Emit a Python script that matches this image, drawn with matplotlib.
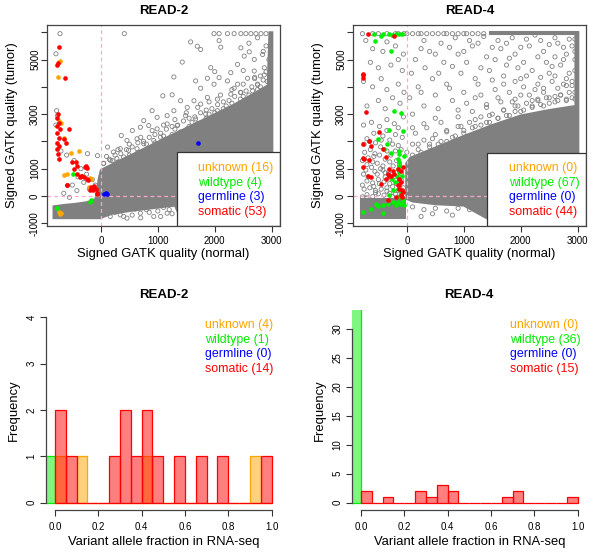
import matplotlib
matplotlib.use("Agg")
import matplotlib.pyplot as plt
from matplotlib.patches import Rectangle

plt.rcParams['font.family'] = ['Liberation Sans', 'DejaVu Sans']

# ---- categories / colours ----
categories = ['unknown', 'wildtype', 'germline', 'somatic']
cat_colors = ['#FFA500', '#00EE00', '#0000FF', '#FF0000']
GRAY = '#808080'

# ---- scatter counts shown in the legends ----
scatter_counts = {'READ-2': [16, 4, 3, 53], 'READ-4': [0, 67, 0, 44]}
hist_counts_legend = {'READ-2': [4, 1, 0, 14], 'READ-4': [0, 36, 0, 15]}

x_ticks_sc = [0, 1000, 2000, 3000]
y_ticks_sc = [-1000, 0, 1000, 2000, 3000, 4000, 5000, 6000]
y_ticklabels_sc = ['-1000', '0', '1000', '', '3000', '', '5000', '']

# ---- READ-2 scatter: dense gray core (outline) ----
core2_x = [-830, -830, -650, -450, -250, -100, -60, -40, 0, 280, 580, 870, 1160,
           1460, 1750, 2050, 2340, 2640, 2930, 2960, 3010, 3010, 1400, 1300, 900,
           500, 200, 50, 0]
core2_y = [-812, -380, -330, -290, -230, -120, 150, 600, 950, 1250, 1550, 1850, 2150,
           2450, 2750, 3050, 3350, 3700, 4050, 6000, 6000, -812, -812, -350, -450,
           -550, -650, -760, -812]

# READ-2 scattered gray circles
gray2_x = [-717, 412, -788, 1987, 2076, 2223, 2340, 2458, 2546, 2634, 2722, 2811, 2899,
           1576, 1693, 1752, 2076, 2105, 2458, 2605, 2517, 2693, 2840, 1429, 1929, 1999,
           1870, 2076, 2281, 2399, 1282, 1664, 1752, 1987, 2223, 2340, 2575, 2752, 2869,
           2693, 1088, 1252, 1399, 1517, 1635, 1752, 1870, 2046, 2281, 2458, 2664, 900,
           753, 988, 1164, 1282, 1488, 1664, 1840, 2046, 553, 694, 841, 988, 1164, 1341,
           1517, 359, 459, 635, 753, 929, 1047, 118, 223, 341, 488, 635, -59, -235, 47,
           165, 282, 400,
           -776, -760, -790, -700, -600, -470, -350, -250, -400, -300, -150, -500, -420,
           -200, -100, -650, -550,
           165, 459, 694, 929, 1164, 341, 800, 1100, 600, 300, 1250, 1000, 700, 450, 150,
           250, 550, 850, 1050, 1250, 400, 700, 1000, 1200,
           2900, 2870, 2950, 2600, 2750, 2850, 2800, 2920, 2700, 2500, 2400]
gray2_y = [5951, 5951, 5212, 5951, 5951, 5951, 5951, 5951, 5951, 5951, 5951, 5951, 5951,
           5648, 5490, 5369, 5696, 5454, 5430, 5284, 5127, 5006, 5187, 4909, 4703, 4557,
           4315, 4339, 4521, 4824, 4363, 4218, 3951, 4097, 4218, 3951, 4315, 4072, 4436,
           4581, 3672, 3709, 3491, 3248, 3491, 3369, 3612, 3551, 3733, 3794, 3854, 3127,
           2763, 2885, 2945, 3127, 2945, 2824, 3006, 3127, 2400, 2521, 2582, 2460, 2642,
           2582, 2460, 2218, 2036, 2097, 1915, 2036, 2157, 1794, 1612, 1733, 1673, 1733,
           1479, 1551, 1188, 1309, 1370, 1430,
           3127, 2950, 2600, 1650, 1500, 1300, 1000, 800, 700, 500, 600, 400, 200, 250,
           400, 100, -50,
           -751, -812, -630, -750, -630, -690, -500, -420, -480, -450, -300, -180, -250,
           -300, -400,
           -600, -700, -600, -750, -650, -750, -800, -550, -500,
           5500, 4700, 5000, 5600, 5800, 5300, 4400, 4200, 4300, 4600, 4100]

# READ-2 halo of circles just above the dense wedge
halo2_x = [50, 150, 250, 350, 450, 550, 650, 750, 850, 950, 1050, 1150, 1250, 1350,
           1450, 1550, 1650, 1750, 1850, 1950, 2050, 2150, 2250, 2350, 2450, 2550, 2650,
           2750, 2850,
           100, 300, 500, 700, 900, 1100, 1300, 1500, 1700, 1900, 2100, 2300, 2500, 2700,
           2900,
           200, 500, 800, 1100, 1300, 1600, 1900, 2200, 2500, 2800, 300, 650, 950, 1250,
           1550, 1850, 2150, 2450, 2750, 1000, 1400, 1700, 2000, 2300, 2600]
halo2_y = [1200, 1350, 1500, 1550, 1700, 1800, 1950, 2000, 2150, 2250, 2300, 2450, 2550,
           2600, 2750, 2850, 2900, 3050, 3150, 3200, 3350, 3450, 3500, 3650, 3800, 3850,
           4000, 4100, 4250,
           1450, 1700, 1900, 2150, 2400, 2600, 2800, 3050, 3250, 3450, 3700, 3900, 4100,
           4350, 4550,
           1300, 1500, 1900, 2200, 2450, 2700, 3000, 3300, 3650, 4000, 1250, 1600, 1950,
           2250, 2550, 2850, 3200, 3550, 3900, 1800, 2350, 2650, 3050, 3400, 3700]

# READ-2 coloured points
r2_unknown_x = [-735, -720, -753, -735, -706, -647, -530, -383, -647, -588, -177, -206,
                -735, -718, -706, -188]
r2_unknown_y = [4912, 4950, 4369, 2740, 2679, 2136, 1593, 1653, 772, 808, 627, 325,
                -580, -677, -640, 642]
r2_wildtype_x = [-483, -765, -188, -177]
r2_wildtype_y = [796, -423, -218, -157]
r2_germline_x = [58, 88, 105, 1705]
r2_germline_y = [84, 108, 84, 1930]
r2_somatic_x = [-735, -765, -753, -635, -753, -765, -735, -765, -718, -776, -735, -765,
                -735, -765, -753, -735, -559, -647, -618, -500, -441, -471, -412, -265,
                -236, -412, -353, -294, -236, -324, -588, -177, -147, -118, -89, -130,
                -59, -276, -364, -218, -188, -70, -600]
r2_somatic_y = [5479, 4791, 4876, 4333, 3005, 2860, 2679, 2558, 2438, 2317, 2136, 1955,
                1834, 1713, 1532, 1351, 2462, 2076, 1955, 1255, 1231, 989, 1110, 1086,
                1025, 808, 748, 687, 627, 724, 386, 325, 289, 362, 265, 205, 84, 1067,
                703, 582, 218, 97, 400]

# ---- READ-4 scatter: dense gray cores ----
block4_x = [-805, -805, -30, -30]
block4_y = [-812, -100, -100, -812]
core4_x = [-10, -10, 60, 470, 1000, 1500, 2000, 2500, 2960, 2960, 3010, 3010, 1400,
           1000, 500, 100]
core4_y = [-100, 1200, 1400, 1750, 2200, 2600, 2950, 3150, 3300, 6000, 6000, -812, -812,
           -350, -300, -200]
band4_x = [1450, 1450, 3010, 3010]
band4_y = [5920, 6060, 6060, 5920]

gray4_x = [-780, -600, -500, -350, -200, -150, -50, 0, 100, 200, 250, 350, 450, 550,
           650, 700, 800, 900, 1000, 1050, 1150, 1250, 1350,
           -780, -700, -600, -500, -400, -300, -200, -120, -750, -650, -550, -450, -350,
           -250, -150, -60, -700, -600, -500, -400, -300, -200, -760, -560, -460, -380,
           -240, -700, -600, -520, -420, -300, -180, -740, -640, -560, -460, -350, -250,
           -150, -700, -580, -420, -300, -200, -80, -760, -620, -480, -350, -220, -60,
           -700, -500, -380, -250, -120, -50, -760, -600, -450, -350, -150, -80, -640,
           -500, -280, -150, -600, -420, -200, -60, -720, -350,
           -780, -680, -580, -480, -380, -280, -180, -90, -720, -620, -520, -420, -320,
           -130, -90, -780, -680, -580, -480, -380, -280, -200, -100, -750, -650, -550,
           -450, -350, -150, -700, -550, -350, -250, -100,
           100, 300, 550, 800, 1050, 1300, 1550, 1800, 2050, 2300, 2550, 2800, 200, 450,
           700, 950, 1200, 1450, 1700, 1950, 2200, 2450, 2700, 2950, 150, 400, 650, 900,
           1150, 1400, 1650, 1900, 2150, 2400, 2650, 2900, 300, 600, 850, 1100, 1350,
           1600, 1850, 2100, 2350, 2600, 2850, 2500, 2750, 2250, 2000, 1750, 2600, 2800,
           2950, 2900,
           50, 250, 500, 750, 1000, 1250, 1500, 1700, 1900, 2100, 2350, 2600, 2850, 80,
           320, 560, 800, 1050, 1300, 1550, 1800, 2050, 2300, 2550, 2750, 2950, 250, 500,
           750, 1000, 1250, 1500, 1750, 2000, 2250, 2500, 2750, 2950, 1200, 1600, 2000,
           2400, 2800, 2950, 2600, 2300, 1850, 1400, 900, 500, 300, 100,
           100, 300, 500, 700, 900, 1100, 1300, 450, 800, 250]
gray4_y = [5950, 5950, 5950, 5950, 5950, 5950, 5950, 5950, 5950, 5950, 5950, 5950, 5950,
           5950, 5950, 5950, 5950, 5950, 5950, 5950, 5950, 5950, 5950,
           -30, 50, -20, 80, 30, 100, 60, -50, 250, 300, 200, 250, 300, 350, 200, 300,
           550, 480, 600, 520, 450, 580, 800, 900, 1000, 850, 1100, 1150, 1250, 1200,
           1100, 1250, 1300, 1600, 1700, 1550, 1800, 1650, 1900, 1850, 2100, 2300, 2200,
           2050, 2250, 2150, 2600, 2700, 2550, 2800, 2650, 2900, 3300, 3500, 3200, 3600,
           3400, 3800, 4200, 4000, 4300, 3900, 4100, 4600, 4900, 4700, 4800, 5000, 5400,
           5300, 5500, 5200, 5700, 5650,
           400, 700, 350, 450, 700, 650, 450, 550, 950, 1050, 800, 950, 850, 1150, 800,
           1300, 1400, 1450, 1500, 1350, 1500, 1650, 1700, 1900, 2000, 1950, 2050, 2400,
           2500, -70, 120, 180, -20, 50,
           3000, 3300, 3200, 3500, 3400, 3700, 3900, 3800, 4000, 4100, 4200, 4300, 4000,
           4300, 4100, 4500, 4300, 4600, 4400, 4700, 4600, 4900, 4800, 5000, 5000, 5300,
           4900, 5200, 5500, 5100, 5400, 5200, 5500, 5300, 5600, 5500, 5700, 5600, 5800,
           5700, 5850, 5700, 5800, 5750, 5700, 5800, 5750, 4500, 4100, 3900, 4300, 4800,
           5100, 5200, 4600, 4200,
           3600, 3800, 3700, 3950, 3800, 4100, 4250, 4100, 4200, 4400, 4350, 4400, 4500,
           4500, 4700, 4500, 4750, 4900, 4700, 5000, 5050, 4900, 5100, 4750, 5000, 5300,
           5400, 5200, 5450, 5300, 5600, 5450, 5600, 5450, 5900, 5550, 5450, 5750, 3600,
           3600, 3700, 3950, 4050, 3800, 3650, 3550, 3450, 3350, 3150, 2850, 2650, 2500,
           -400, -500, -450, -550, -450, -500, -420, -650, -700, -750]

# READ-4 halo of circles just above the dense band
halo4_x = [0, 200, 400, 600, 800, 1000, 1200, 1400, 1600, 1800, 2000, 2200, 2400, 2600,
           2800, 2950, 100, 300, 500, 700, 900, 1100, 1300, 1500, 1700, 1900, 2100, 2300,
           2500, 2700,
           100, 250, 400, 550, 700, 850, 1000, 1150, 1300, 1450, 1600, 1750, 1900, 2050,
           2200, 2350, 2500, 2650, 2800, 2900, 200, 450, 700, 950, 1200, 1450, 1700, 1950,
           2200, 2450, 2700, 2850, 150, 350, 600, 900, 1150, 1400, 1650, 1900, 2150, 2400,
           2650, 2900]
halo4_y = [1600, 1700, 1900, 2000, 2150, 2400, 2550, 2700, 2850, 2950, 3100, 3250, 3300,
           3450, 3500, 3550, 1900, 2050, 2250, 2400, 2550, 2700, 2900, 3000, 3150, 3300,
           3400, 3500, 3600, 3700,
           1500, 1600, 1800, 1900, 2000, 2200, 2300, 2500, 2600, 2700, 2850, 2950, 3100,
           3150, 3300, 3350, 3400, 3500, 3550, 3600, 1900, 2100, 2350, 2550, 2800, 2950,
           3150, 3300, 3500, 3600, 3700, 3800, 2300, 2500, 2700, 2900, 3100, 3250, 3450,
           3550, 3700, 3800, 3950, 4050]

# READ-4 coloured points
r4_wildtype_x = [-570, -452, -423, -305, -188, -129, -82, -258, -552, -276, -217, -111,
                 -305, -70, -511, -394, -129, -141, -158, -129, -141, -158, -129, -176,
                 -141, -117, -158, -100, -129, -70, -158, -100, -58, -188, -247, -335,
                 -423, -541, -629, -776, -423, -511, -305, -247, -200, -258, -82, -53,
                 -276, -352]
r4_wildtype_y = [5938, 5878, 5938, 5938, 5938, 5938, 5938, 5902, 5697, 5310, 3101, 3041,
                 2414, 2365, 2076, 1713, 1653, 1532, 1351, 1231, 1110, 989, 869, 748, 627,
                 506, 265, 145, -37, -157, -218, -278, -314, -314, -218, -278, -339, -278,
                 -459, -580, -616, -363, 24, 205, 506, 627, 748, 1472, 1593, 1894]
r4_somatic_x = [-688, -217, -776, -776, -764, -717, -482, -658, -776, -629, -776, -746,
                -658, -364, -776, -688, -629, -452, -364, -335, -317, -276, -305, -247,
                -217, -158, -100, -70, -129, -100, -158, -129, -70, -100, -188, -423,
                -129, -82, -323, -88]
r4_somatic_y = [5938, 5878, 4429, 4308, 4490, 3065, 2341, 2015, 1894, 1834, 1375, 1351,
                1315, 1412, 1050, 748, 687, 446, 627, 808, 724, 748, 989, 929, 808, 989,
                929, 1050, 627, 506, 386, 265, 145, 24, -37, 1713, 386, 205, -145, -24]

# ---- histograms: VAF bins and counts ----
bin_edges = [0.00, 0.05, 0.10, 0.15, 0.20, 0.25, 0.30, 0.35, 0.40, 0.45, 0.50,
             0.55, 0.60, 0.65, 0.70, 0.75, 0.80, 0.85, 0.90, 0.95, 1.00]
wt_bin = [-0.05, 0.00]
h2_somatic = [2, 1, 0, 0, 0, 1, 2, 1, 2, 1, 0, 1, 0, 1, 0, 1, 0, 0, 0, 1]
h2_unknown = [1, 0, 1, 0, 0, 0, 0, 0, 1, 0, 0, 0, 0, 0, 0, 0, 0, 0, 1, 0]
h2_wildtype = [1]
h4_somatic = [2, 0, 1, 0, 0, 2, 1, 3, 2, 0, 0, 0, 0, 1, 2, 0, 0, 0, 0, 1]
h4_wildtype = [36]

fig = plt.figure(figsize=(6.0, 5.6), dpi=100)


def style_scatter(ax, title):
    ax.set_xlim(-945, 3145)
    ax.set_ylim(-1100, 6268)
    ax.set_xticks(x_ticks_sc)
    ax.set_yticks(y_ticks_sc)
    ax.set_yticklabels(y_ticklabels_sc)
    ax.tick_params(axis='both', length=4.5, width=0.8, color='#333333',
                   labelsize=7, direction='out')
    ax.tick_params(axis='x', pad=2.5)
    ax.tick_params(axis='y', pad=0.5)
    for lab in ax.get_yticklabels():
        lab.set_rotation(90)
        lab.set_va('center')
    for sp in ax.spines.values():
        sp.set_linewidth(0.9)
        sp.set_color('#444444')
        sp.set_zorder(7)
    ax.set_title(title, fontsize=9.5, fontweight='bold', pad=8)
    ax.set_xlabel('Signed GATK quality (normal)', fontsize=9.4, labelpad=1.5)
    ax.set_ylabel('Signed GATK quality (tumor)', fontsize=9.4, labelpad=8.5)
    ax.axvline(0, color='#FFA8CC', lw=0.9, ls=(0, (3, 2.5)), zorder=3)
    ax.axhline(0, color='#FFA8CC', lw=0.9, ls=(0, (3, 2.5)), zorder=3)


def gray_cloud(ax, xs, ys):
    ax.scatter(xs, ys, s=9, facecolors='none', edgecolors=GRAY, linewidths=0.6, zorder=2)


def scatter_legend(ax, counts, box_left, box_top, text_x):
    ax.add_patch(Rectangle((box_left, 0), 1 - box_left, box_top, transform=ax.transAxes,
                           facecolor='white', edgecolor='#333333', lw=0.9, zorder=5))
    for i, (cat, col) in enumerate(zip(categories, cat_colors)):
        ax.text(text_x, [0.290, 0.214, 0.142, 0.068][i], f'{cat} ({counts[i]})',
                transform=ax.transAxes, color=col, fontsize=8.9, va='center',
                ha='left', zorder=6)


def hist_legend(ax, counts, text_x):
    for i, (cat, col) in enumerate(zip(categories, cat_colors)):
        ax.text(text_x, [0.925, 0.852, 0.780, 0.705][i], f'{cat} ({counts[i]})',
                transform=ax.transAxes, color=col, fontsize=8.9, va='center', ha='left')


# ---- READ-2 scatter ----
ax1 = fig.add_axes([47 / 600, 1 - 226 / 560, 233 / 600, 201 / 560])
ax1.fill(core2_x, core2_y, color=GRAY, lw=1.5, zorder=2)
gray_cloud(ax1, gray2_x, gray2_y)
gray_cloud(ax1, halo2_x, halo2_y)
style_scatter(ax1, 'READ-2')
ax1.scatter(r2_unknown_x, r2_unknown_y, s=11, color=cat_colors[0], lw=0, zorder=4)
ax1.scatter(r2_wildtype_x, r2_wildtype_y, s=11, color=cat_colors[1], lw=0, zorder=4)
ax1.scatter(r2_germline_x, r2_germline_y, s=11, color=cat_colors[2], lw=0, zorder=4)
ax1.scatter(r2_somatic_x, r2_somatic_y, s=11, color=cat_colors[3], lw=0, zorder=4)
scatter_legend(ax1, scatter_counts['READ-2'], 0.557, 0.368, 0.648)

# ---- READ-4 scatter ----
ax2 = fig.add_axes([353 / 600, 1 - 226 / 560, 233 / 600, 201 / 560])
ax2.fill(block4_x, block4_y, color=GRAY, lw=1.5, zorder=2)
ax2.fill(core4_x, core4_y, color=GRAY, lw=1.5, zorder=2)
ax2.fill(band4_x, band4_y, color=GRAY, lw=0.8, zorder=2)
gray_cloud(ax2, gray4_x, gray4_y)
gray_cloud(ax2, halo4_x, halo4_y)
style_scatter(ax2, 'READ-4')
ax2.scatter(r4_wildtype_x, r4_wildtype_y, s=11, color=cat_colors[1], lw=0, zorder=4)
ax2.scatter(r4_somatic_x, r4_somatic_y, s=11, color=cat_colors[3], lw=0, zorder=4)
scatter_legend(ax2, scatter_counts['READ-4'], 0.575, 0.365, 0.670)


def style_hist(ax, title, ymax, yticks):
    ax.set_xlim(-0.04, 1.04)
    ax.set_ylim(-0.04 * ymax, 1.04 * ymax)
    ax.set_xticks([0.0, 0.2, 0.4, 0.6, 0.8, 1.0])
    ax.set_xticklabels(['0.0', '0.2', '0.4', '0.6', '0.8', '1.0'])
    ax.set_yticks(yticks)
    ax.spines['top'].set_visible(False)
    ax.spines['right'].set_visible(False)
    ax.spines['left'].set_bounds(yticks[0], yticks[-1])
    ax.spines['bottom'].set_bounds(0, 1)
    for sp in ('left', 'bottom'):
        ax.spines[sp].set_linewidth(0.9)
        ax.spines[sp].set_color('#444444')
    ax.tick_params(axis='both', length=4, width=0.8, color='#333333', labelsize=7)
    ax.tick_params(axis='x', pad=4.5)
    ax.tick_params(axis='y', pad=3)
    for lab in ax.get_yticklabels():
        lab.set_rotation(90)
        lab.set_va('center')
    ax.set_title(title, fontsize=9.5, fontweight='bold', pad=8.5)
    ax.set_xlabel('Variant allele fraction in RNA-seq', fontsize=9.4, labelpad=3)
    ax.set_ylabel('Frequency', fontsize=9.4, labelpad=5)


def hbars(ax, edges, counts, col):
    lefts = edges[:-1]
    ax.bar(lefts, counts, width=0.05, align='edge', color=matplotlib.colors.to_rgba(col, 0.5),
           edgecolor=col, lw=0.9)


# ---- READ-2 histogram ----
ax3 = fig.add_axes([46.3 / 600, 1 - 510 / 560, 234 / 600, 200 / 560])
hbars(ax3, wt_bin, h2_wildtype, cat_colors[1])
hbars(ax3, bin_edges, h2_unknown, cat_colors[0])
hbars(ax3, bin_edges, h2_somatic, cat_colors[3])
style_hist(ax3, 'READ-2', 4, [0, 1, 2, 3, 4])
hist_legend(ax3, hist_counts_legend['READ-2'], 0.678)

# ---- READ-4 histogram ----
ax4 = fig.add_axes([352.3 / 600, 1 - 510 / 560, 234 / 600, 200 / 560])
hbars(ax4, wt_bin, h4_wildtype, cat_colors[1])
hbars(ax4, bin_edges, h4_somatic, cat_colors[3])
style_hist(ax4, 'READ-4', 32, [0, 5, 10, 15, 20, 25, 30])
hist_legend(ax4, hist_counts_legend['READ-4'], 0.674)

fig.savefig('out.png', dpi=100)
